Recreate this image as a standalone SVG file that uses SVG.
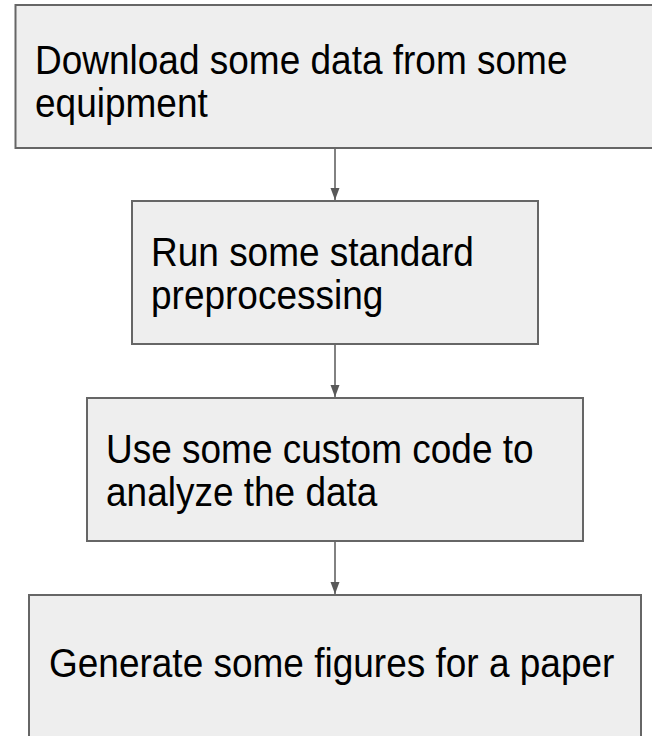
<svg xmlns="http://www.w3.org/2000/svg" width="652" height="736" viewBox="0 0 652 736">
  <style>
    .box { fill: #eeeeee; stroke: #666666; stroke-width: 2; }
    .lbl { font-family: "Liberation Sans", Arial, sans-serif; font-size: 40px; fill: #000000; }
    .conn { stroke: #595959; stroke-width: 1.5; fill: none; }
  </style>
  <defs>
    <marker id="arrow" viewBox="0 0 12 10" refX="12" refY="5" markerWidth="12" markerHeight="10" markerUnits="userSpaceOnUse" orient="auto">
      <path d="M0,0.5 L12,5 L0,9.5 Z" fill="#595959"/>
    </marker>
  </defs>
  <rect width="652" height="736" fill="#ffffff"/>
  <g id="connectors">
    <line class="conn" x1="335" y1="148" x2="335" y2="200" marker-end="url(#arrow)"/>
    <line class="conn" x1="335" y1="344" x2="335" y2="397" marker-end="url(#arrow)"/>
    <line class="conn" x1="335" y1="541" x2="335" y2="594" marker-end="url(#arrow)"/>
  </g>
  <g id="node-download">
    <rect class="box" x="15.5" y="5" width="640" height="143"/>
    <text class="lbl" transform="translate(35,74) scale(0.925,1)">Download some data from some</text>
    <text class="lbl" transform="translate(35,117) scale(0.925,1)">equipment</text>
  </g>
  <g id="node-preprocess">
    <rect class="box" x="132" y="201" width="406" height="143"/>
    <text class="lbl" transform="translate(151,266) scale(0.925,1)">Run some standard</text>
    <text class="lbl" transform="translate(151,309) scale(0.925,1)">preprocessing</text>
  </g>
  <g id="node-analyze">
    <rect class="box" x="87" y="398" width="496" height="143"/>
    <text class="lbl" transform="translate(106,463) scale(0.925,1)">Use some custom code to</text>
    <text class="lbl" transform="translate(106,506) scale(0.925,1)">analyze the data</text>
  </g>
  <g id="node-figures">
    <rect class="box" x="29" y="595" width="612" height="150"/>
    <text class="lbl" transform="translate(49,677) scale(0.925,1)">Generate some figures for a paper</text>
  </g>
</svg>
